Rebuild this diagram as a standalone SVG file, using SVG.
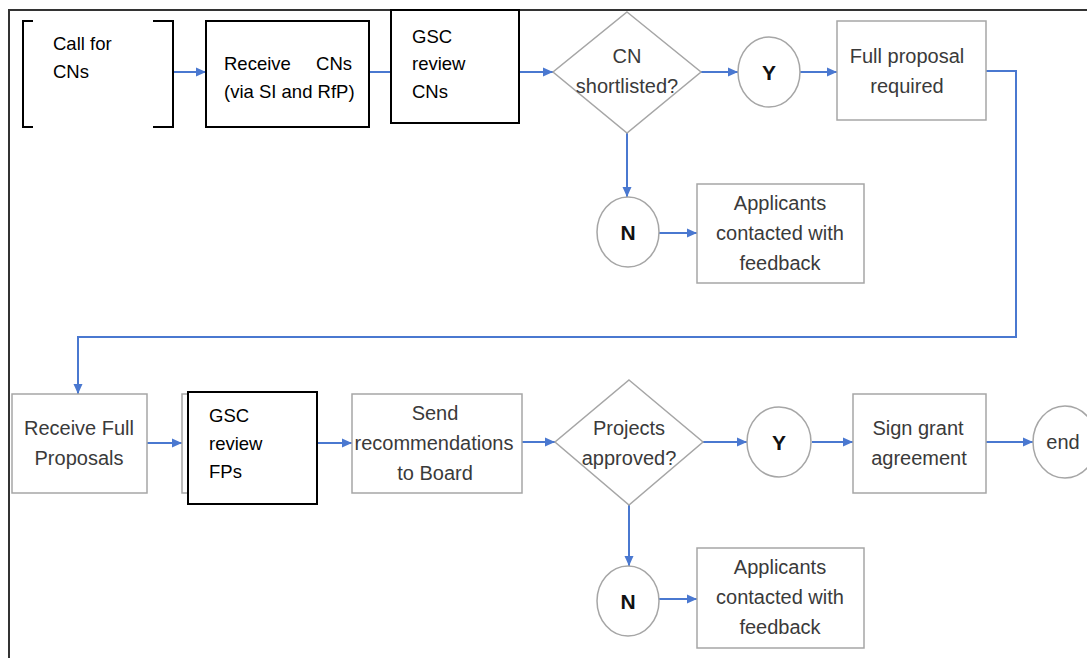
<svg xmlns="http://www.w3.org/2000/svg" width="1087" height="658" viewBox="0 0 1087 658">
<style>
.frame{fill:none;stroke:#333;stroke-width:2}
.bk{fill:#fff;stroke:#000;stroke-width:2}
.gr{fill:#fff;stroke:#a6a6a6;stroke-width:1.5}
.conn{fill:none;stroke:#4a78d0;stroke-width:2}
.tb{font-family:"Liberation Sans",Arial,sans-serif;font-size:18.5px;fill:#000}
.tg{font-family:"Liberation Sans",Arial,sans-serif;font-size:20px;fill:#3a3a3a;text-anchor:middle}
.ty{font-family:"Liberation Sans",Arial,sans-serif;font-size:21px;font-weight:bold;fill:#111;text-anchor:middle}
</style>
<defs>
<marker id="ah" markerWidth="12" markerHeight="12" refX="10" refY="6" orient="auto" markerUnits="userSpaceOnUse">
<path d="M0,1.5 L10,6 L0,10.5 Z" fill="#4a78d0"/>
</marker>
</defs>
<rect width="1087" height="658" fill="#fff"/>
<path class="frame" d="M9,658 V10 H1087"/>

<g id="connectors">
<line class="conn" x1="173" y1="72" x2="206" y2="72" marker-end="url(#ah)"/>
<line class="conn" x1="369" y1="72" x2="391" y2="72"/>
<line class="conn" x1="519" y1="72" x2="553" y2="72" marker-end="url(#ah)"/>
<line class="conn" x1="701" y1="72" x2="738" y2="72" marker-end="url(#ah)"/>
<line class="conn" x1="800" y1="72" x2="837" y2="72" marker-end="url(#ah)"/>
<line class="conn" x1="627" y1="133" x2="627" y2="197" marker-end="url(#ah)"/>
<line class="conn" x1="659" y1="233" x2="697" y2="233" marker-end="url(#ah)"/>
<path class="conn" d="M986,71 H1016 V337 H78 V394" marker-end="url(#ah)"/>
<line class="conn" x1="147" y1="443" x2="182" y2="443" marker-end="url(#ah)"/>
<line class="conn" x1="317" y1="443" x2="352" y2="443" marker-end="url(#ah)"/>
<line class="conn" x1="522" y1="442" x2="555" y2="442" marker-end="url(#ah)"/>
<line class="conn" x1="703" y1="442" x2="747" y2="442" marker-end="url(#ah)"/>
<line class="conn" x1="812" y1="442" x2="853" y2="442" marker-end="url(#ah)"/>
<line class="conn" x1="986" y1="442" x2="1033" y2="442" marker-end="url(#ah)"/>
<line class="conn" x1="629" y1="505" x2="629" y2="566" marker-end="url(#ah)"/>
<line class="conn" x1="659" y1="599" x2="697" y2="599" marker-end="url(#ah)"/>
</g>

<g id="call-for-cns">
<path d="M33,21 H23 V127 H33 M153,21 H173 V127 H153" fill="none" stroke="#000" stroke-width="2"/>
<text class="tb" x="53" y="50">Call for</text>
<text class="tb" x="53" y="78">CNs</text>
</g>

<g id="receive-cns">
<rect class="bk" x="206" y="21" width="163" height="106"/>
<text class="tb" y="70"><tspan x="224">Receive</tspan><tspan x="352" text-anchor="end">CNs</tspan></text>
<text class="tb" x="224" y="98">(via SI and RfP)</text>
</g>

<g id="gsc-review-cns">
<rect class="bk" x="391" y="10" width="128" height="113"/>
<text class="tb" x="412" y="43">GSC</text>
<text class="tb" x="412" y="70">review</text>
<text class="tb" x="412" y="98">CNs</text>
</g>

<g id="cn-shortlisted">
<polygon class="gr" points="627,12 701,72 627,133 553,72"/>
<text class="tg" x="627" y="63">CN</text>
<text class="tg" x="627" y="93">shortlisted?</text>
</g>

<g id="y1">
<ellipse class="gr" cx="769" cy="72" rx="31" ry="35"/>
<text class="ty" x="769" y="80">Y</text>
</g>

<g id="full-proposal-required">
<rect class="gr" x="837" y="21" width="149" height="99"/>
<text class="tg" x="907" y="63">Full proposal</text>
<text class="tg" x="907" y="93">required</text>
</g>

<g id="n1">
<ellipse class="gr" cx="628" cy="232" rx="31" ry="35"/>
<text class="ty" x="628" y="240">N</text>
</g>

<g id="applicants-1">
<rect class="gr" x="697" y="184" width="167" height="99"/>
<text class="tg" x="780" y="210">Applicants</text>
<text class="tg" x="780" y="240">contacted with</text>
<text class="tg" x="780" y="270">feedback</text>
</g>

<g id="receive-full-proposals">
<rect class="gr" x="12" y="394" width="135" height="99"/>
<text class="tg" x="79" y="435">Receive Full</text>
<text class="tg" x="79" y="465">Proposals</text>
</g>

<g id="gsc-review-fps">
<rect class="gr" x="182" y="394" width="100" height="99"/>
<rect class="bk" x="188" y="392" width="129" height="112"/>
<text class="tb" x="209" y="422">GSC</text>
<text class="tb" x="209" y="450">review</text>
<text class="tb" x="209" y="478">FPs</text>
</g>

<g id="send-recommendations">
<rect class="gr" x="352" y="394" width="170" height="99"/>
<text class="tg" x="435" y="420">Send</text>
<text class="tg" x="434" y="450">recommendations</text>
<text class="tg" x="435" y="480">to Board</text>
</g>

<g id="projects-approved">
<polygon class="gr" points="629,380 703,442 629,505 555,442"/>
<text class="tg" x="629" y="435">Projects</text>
<text class="tg" x="629" y="465">approved?</text>
</g>

<g id="y2">
<ellipse class="gr" cx="779" cy="442" rx="32" ry="35"/>
<text class="ty" x="779" y="450">Y</text>
</g>

<g id="sign-grant">
<rect class="gr" x="853" y="394" width="133" height="99"/>
<text class="tg" x="918" y="435">Sign grant</text>
<text class="tg" x="919" y="465">agreement</text>
</g>

<g id="end">
<ellipse class="gr" cx="1065" cy="442" rx="32" ry="36"/>
<text class="tg" x="1063" y="449">end</text>
</g>

<g id="n2">
<ellipse class="gr" cx="628" cy="601" rx="31" ry="35"/>
<text class="ty" x="628" y="609">N</text>
</g>

<g id="applicants-2">
<rect class="gr" x="697" y="548" width="167" height="100"/>
<text class="tg" x="780" y="574">Applicants</text>
<text class="tg" x="780" y="604">contacted with</text>
<text class="tg" x="780" y="634">feedback</text>
</g>
</svg>
